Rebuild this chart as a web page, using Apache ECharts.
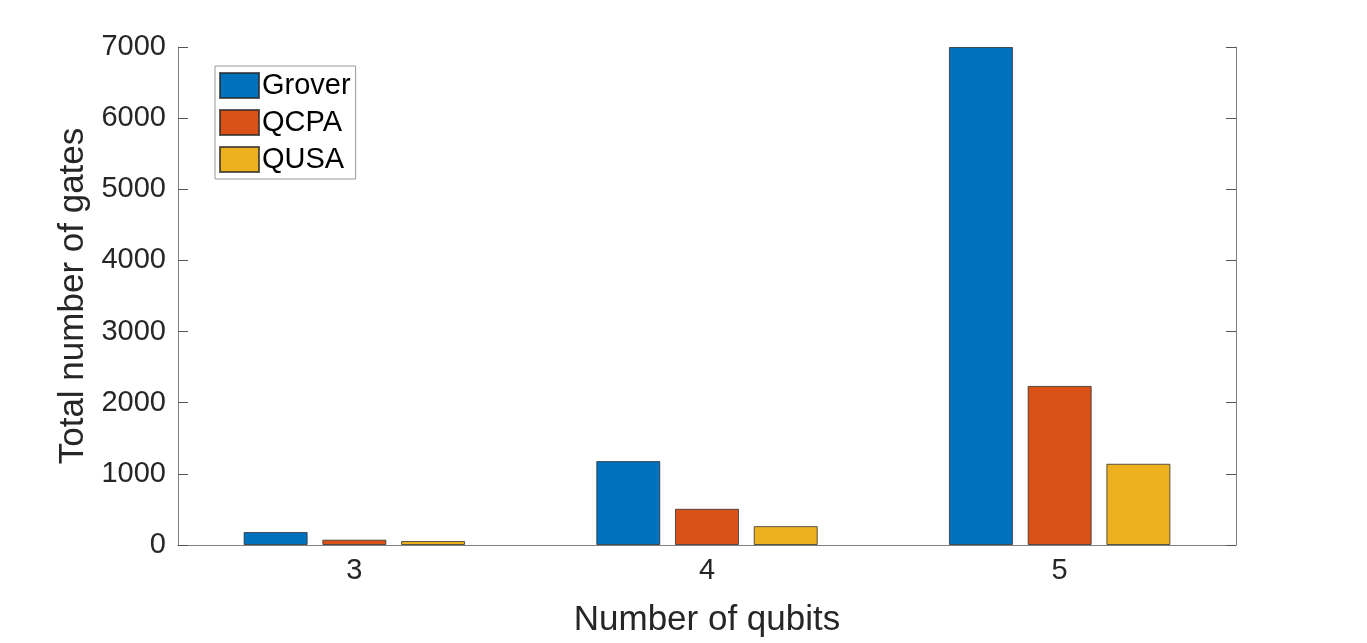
<!DOCTYPE html>
<html>
<head>
<meta charset="utf-8">
<script src="https://cdn.jsdelivr.net/npm/echarts@6/dist/echarts.min.js"></script>
<style>
html,body{margin:0;padding:0;background:#fff;}
#chart{width:1367px;height:643px;}
</style>
</head>
<body>
<div id="chart"></div>
<script>
const categories = ['3', '4', '5'];
const grover = [182, 1179, 7000];
const qcpa = [75, 509, 2236];
const qusa = [56, 265, 1142];
const yTicks = [0, 1000, 2000, 3000, 4000, 5000, 6000, 7000];

const FONT = "'Liberation Sans', Arial, Helvetica, sans-serif";
const AX = '#262626';
const LINE = '#808080';

const chart = echarts.init(document.getElementById('chart'), null, {renderer: 'canvas'});
const barStyle = (c) => ({color: c, borderColor: 'rgba(40,40,40,0.75)', borderWidth: 1});

chart.setOption({
  animation: false,
  backgroundColor: '#fff',
  textStyle: {fontFamily: FONT},
  grid: {left: 178, right: 131, top: 47, bottom: 94, containLabel: false},
  legend: {
    orient: 'vertical', left: 215, top: 66,
    itemWidth: 39, itemHeight: 25, itemGap: 8,
    padding: [5, 5, 5, 4],
    backgroundColor: '#fff', borderColor: '#999', borderWidth: 1,
    icon: 'rect',
    textStyle: {fontSize: 29, color: '#000', fontFamily: FONT, padding: [0, 0, 0, -2]},
    data: ['Grover', 'QCPA', 'QUSA']
  },
  xAxis: [
    {
      type: 'category', data: categories, position: 'bottom',
      name: 'Number of qubits', nameLocation: 'middle', nameGap: 58,
      nameTextStyle: {fontSize: 35, color: AX, fontFamily: FONT},
      axisLine: {lineStyle: {color: LINE, width: 1}},
      axisTick: {inside: true, alignWithLabel: true, length: 10, lineStyle: {color: '#555'}},
      axisLabel: {fontSize: 29, color: AX, margin: 11, fontFamily: FONT}
    },
    {
      type: 'category', data: categories, position: 'top',
      axisLine: {lineStyle: {color: LINE, width: 1}},
      axisTick: {inside: true, alignWithLabel: true, length: 10, lineStyle: {color: '#555'}},
      axisLabel: {show: false}
    }
  ],
  yAxis: [
    {
      type: 'value', min: 0, max: 7000, interval: 1000, position: 'left',
      name: 'Total number of gates', nameLocation: 'middle', nameGap: 84,
      nameTextStyle: {fontSize: 35, color: AX, fontFamily: FONT},
      axisLine: {show: true, lineStyle: {color: LINE, width: 1}},
      axisTick: {show: true, inside: true, length: 10, lineStyle: {color: '#555'}},
      axisLabel: {fontSize: 29, color: AX, margin: 12, fontFamily: FONT,
        formatter: (v) => yTicks.includes(v) ? String(v) : ''},
      splitLine: {show: false}
    },
    {
      type: 'value', min: 0, max: 7000, interval: 1000, position: 'right',
      axisLine: {show: true, lineStyle: {color: LINE, width: 1}},
      axisTick: {show: true, inside: true, length: 10, lineStyle: {color: '#555'}},
      axisLabel: {show: false},
      splitLine: {show: false}
    }
  ],
  series: [
    {name: 'Grover', type: 'bar', data: grover, barWidth: 64, barGap: '23%', itemStyle: barStyle('#0072BD')},
    {name: 'QCPA', type: 'bar', data: qcpa, barWidth: 64, barGap: '23%', itemStyle: barStyle('#D95319')},
    {name: 'QUSA', type: 'bar', data: qusa, barWidth: 64, barGap: '23%', itemStyle: barStyle('#EDB120')}
  ]
});
</script>
</body>
</html>
